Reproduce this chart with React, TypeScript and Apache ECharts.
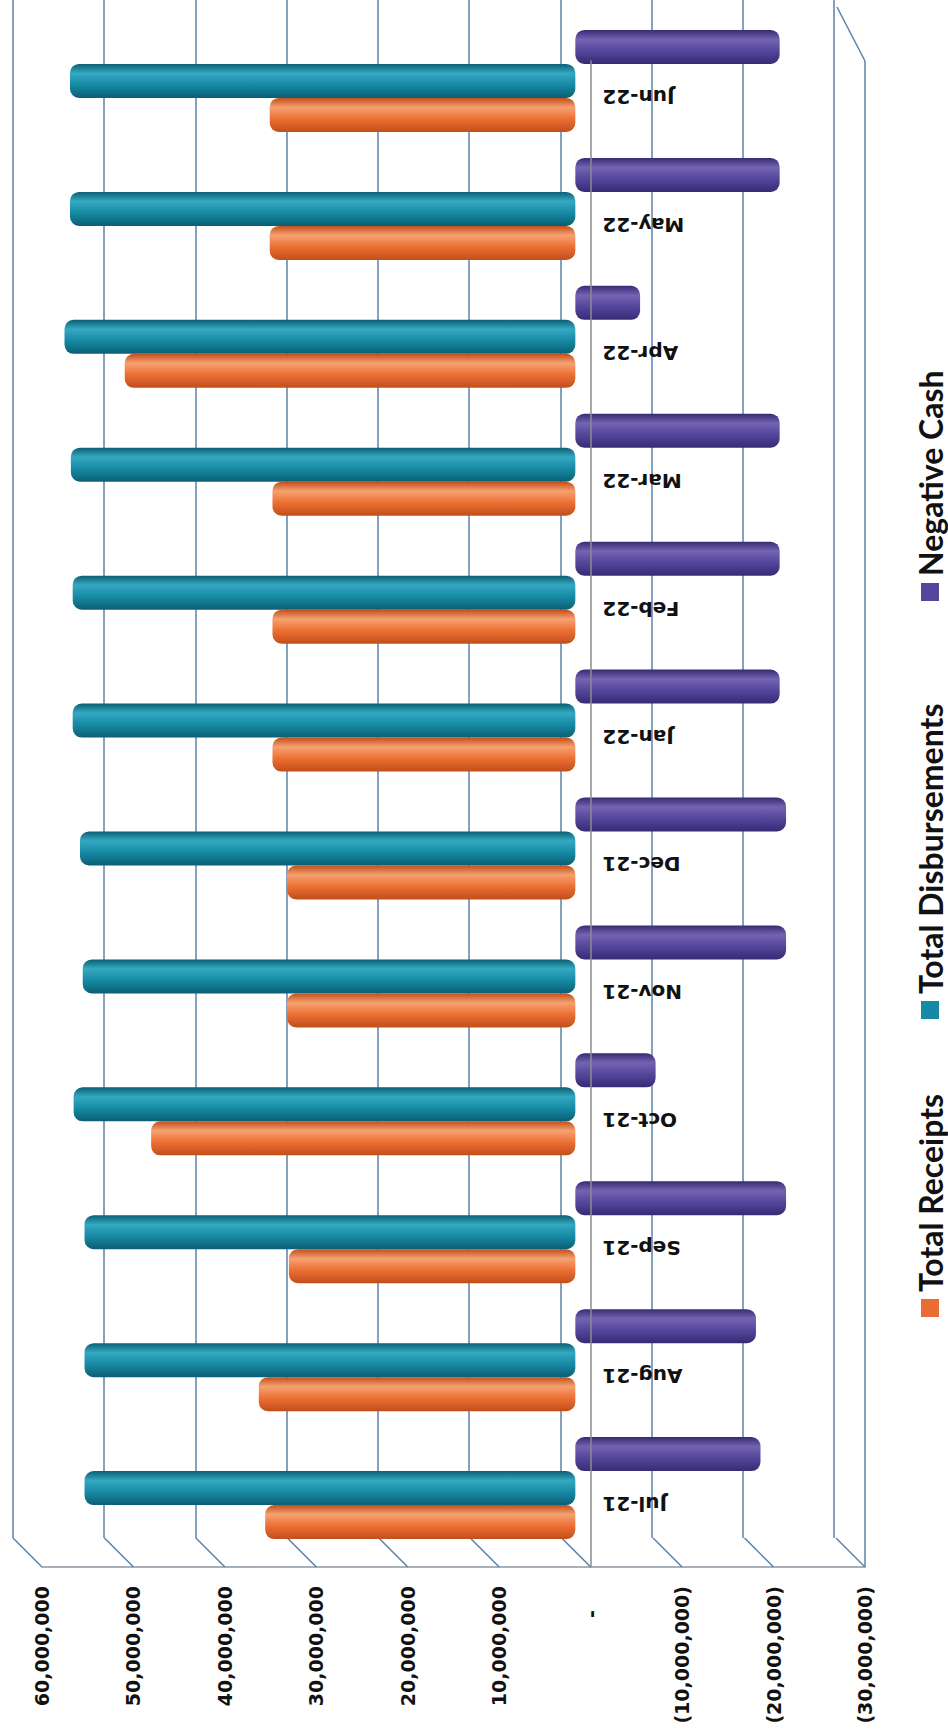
import React, { useEffect, useRef } from "react";
import * as echarts from "echarts";

const categories = ["Jul-21", "Aug-21", "Sep-21", "Oct-21", "Nov-21", "Dec-21", "Jan-22", "Feb-22", "Mar-22", "Apr-22", "May-22", "Jun-22"];
const totalReceipts = [34.0e6, 34.7e6, 31.4e6, 46.5e6, 31.6e6, 31.6e6, 33.2e6, 33.2e6, 33.2e6, 49.4e6, 33.5e6, 33.5e6];
const totalDisbursements = [53.8e6, 53.8e6, 53.8e6, 55.0e6, 54.0e6, 54.3e6, 55.1e6, 55.1e6, 55.3e6, 56.0e6, 55.4e6, 55.4e6];
const negativeCash = [-20.3e6, -19.8e6, -23.1e6, -8.8e6, -23.1e6, -23.1e6, -22.4e6, -22.4e6, -22.4e6, -7.1e6, -22.4e6, -22.4e6];
const tickValues = [60e6, 50e6, 40e6, 30e6, 20e6, 10e6, 0, -10e6, -20e6, -30e6];
const axisMin = -30e6;
const axisMax = 60e6;
const axisStep = 10e6;

const seriesNames = ["Total Receipts", "Total Disbursements", "Negative Cash"];
const seriesColors = ["#ea6d33", "#168aa4", "#55469b"];

const GRID_COLOR = "#5b82a8";
const LABEL_FONT = '"DejaVu Sans", sans-serif';

function fmtAcc(v: number): string {
  if (v === 0) return "{z|-}";
  const s = Math.abs(v).toLocaleString("en-US");
  return v < 0 ? "(" + s + ")" : s;
}

function cyl(dark: string, light: string, base: string) {
  return new echarts.graphic.LinearGradient(0, 0, 0, 1, [
    { offset: 0, color: dark },
    { offset: 0.28, color: light },
    { offset: 0.62, color: base },
    { offset: 1, color: dark },
  ]);
}

export default function App() {
  const ref = useRef<HTMLDivElement>(null);
  useEffect(() => {
    if (!ref.current) return;
    const chart = echarts.init(ref.current, null, { renderer: "svg" });
    const valueAxisBase = {
      type: "value",
      min: axisMin,
      max: axisMax,
      interval: axisStep,
      inverse: true,
    };
    const fills = [
      cyl("#c24e1b", "#f6a171", "#ec6f33"),
      cyl("#0b5f73", "#35a9c2", "#168aa4"),
      cyl("#372a74", "#7363b3", "#55469b"),
    ];
    const dataSets = [totalReceipts, totalDisbursements, negativeCash];
    // ECharts lays the first series at the top of each horizontal band,
    // so the series are listed from the top bar (Negative Cash) down.
    const barOrder = [2, 1, 0];

    const legendGraphics: any[] = [];
    const legendMarkerY = [1308, 1010, 592];
    seriesNames.forEach((n, i) => {
      legendGraphics.push({
        type: "rect",
        shape: { x: 921, y: legendMarkerY[i] - 9, width: 18, height: 18 },
        style: { fill: seriesColors[i] },
      });
      legendGraphics.push({
        type: "text",
        x: 930,
        y: legendMarkerY[i] - 16,
        rotation: Math.PI / 2,
        style: {
          text: n,
          font: 'bold 32px Lato, "Liberation Sans", sans-serif',
          fill: "#111",
          align: "left",
          verticalAlign: "middle",
        },
      });
    });

    const option: any = {
      animation: false,
      backgroundColor: "#ffffff",
      grid: [
        { left: 13, right: 114, top: 0, bottom: 193 },
        { left: 28, right: 99, top: 17, bottom: 179 },
        { left: 42, right: 83, top: 61, bottom: 164 },
      ],
      xAxis: [
        {
          ...valueAxisBase,
          gridIndex: 0,
          axisLine: { show: false },
          axisTick: { show: false },
          axisLabel: { show: false },
          splitLine: { show: true, lineStyle: { color: GRID_COLOR, width: 1.5 } },
        },
        {
          ...valueAxisBase,
          gridIndex: 1,
          axisLine: { show: false },
          axisTick: { show: false },
          axisLabel: { show: false },
          splitLine: { show: false },
        },
        {
          ...valueAxisBase,
          gridIndex: 2,
          axisLine: { show: true, onZero: false, lineStyle: { color: "#8b97a3", width: 1.5 } },
          axisTick: { show: false },
          splitLine: { show: false },
          axisLabel: {
            show: true,
            rotate: 90,
            margin: 19,
            color: "#111",
            fontFamily: LABEL_FONT,
            fontWeight: "bold",
            fontSize: 19,
            formatter: fmtAcc,
            rich: {
              z: { padding: [0, 24, 0, 0], fontFamily: LABEL_FONT, fontWeight: "bold", fontSize: 19, color: "#111" },
            },
          },
        },
      ],
      yAxis: [
        { type: "category", gridIndex: 0, data: categories, show: false },
        { type: "category", gridIndex: 1, data: categories, show: false },
        {
          type: "category",
          gridIndex: 2,
          data: categories,
          z: 5,
          axisLine: { show: true, onZero: true, lineStyle: { color: "#8c8c8c", width: 1.5 } },
          axisTick: { show: false },
          axisLabel: { show: false },
          splitLine: { show: false },
        },
      ],
      series: [
        ...barOrder.map((i) => ({
          name: seriesNames[i],
          type: "bar",
          xAxisIndex: 1,
          yAxisIndex: 1,
          barWidth: 34,
          barGap: "0%",
          data: dataSets[i],
          itemStyle: { color: fills[i], borderRadius: 9 },
        })),
        {
          type: "custom",
          xAxisIndex: 1,
          yAxisIndex: 1,
          z: 6,
          data: categories.map((c) => [0, c]),
          renderItem: (params: any, api: any) => {
            const p = api.coord([0, api.value(1)]);
            return {
              type: "text",
              x: p[0] + 27,
              y: p[1] + 16,
              rotation: Math.PI,
              style: {
                text: categories[params.dataIndex],
                font: 'bold 20px "DejaVu Sans", sans-serif',
                fill: "#111",
                align: "right",
                textAlign: "right",
                verticalAlign: "middle",
                textVerticalAlign: "middle",
              },
            };
          },
        },
        {
          type: "custom",
          xAxisIndex: 2,
          yAxisIndex: 2,
          z: 1,
          silent: true,
          data: tickValues.map((v) => [v, categories[0]]),
          renderItem: (params: any, api: any) => {
            const cs = params.coordSys;
            const v = api.value(0);
            const x = api.coord([v, 0])[0];
            const bottom = cs.y + cs.height;
            const ls = { stroke: GRID_COLOR, lineWidth: 1.5 };
            const children: any[] = [
              { type: "line", shape: { x1: x - 29, y1: bottom - 29, x2: x, y2: bottom }, style: ls },
            ];
            if (v === axisMin) {
              children.push({ type: "line", shape: { x1: x, y1: cs.y, x2: x, y2: bottom }, style: ls });
              children.push({ type: "line", shape: { x1: x - 28, y1: cs.y - 54, x2: x, y2: cs.y }, style: ls });
            }
            return { type: "group", children };
          },
        },
      ],
      graphic: legendGraphics,
    };
    chart.setOption(option);
    return () => chart.dispose();
  }, []);
  return (
    <div
      ref={ref}
      style={{ position: "absolute", left: 0, top: 0, width: 948, height: 1731, background: "#fff" }}
    />
  );
}
